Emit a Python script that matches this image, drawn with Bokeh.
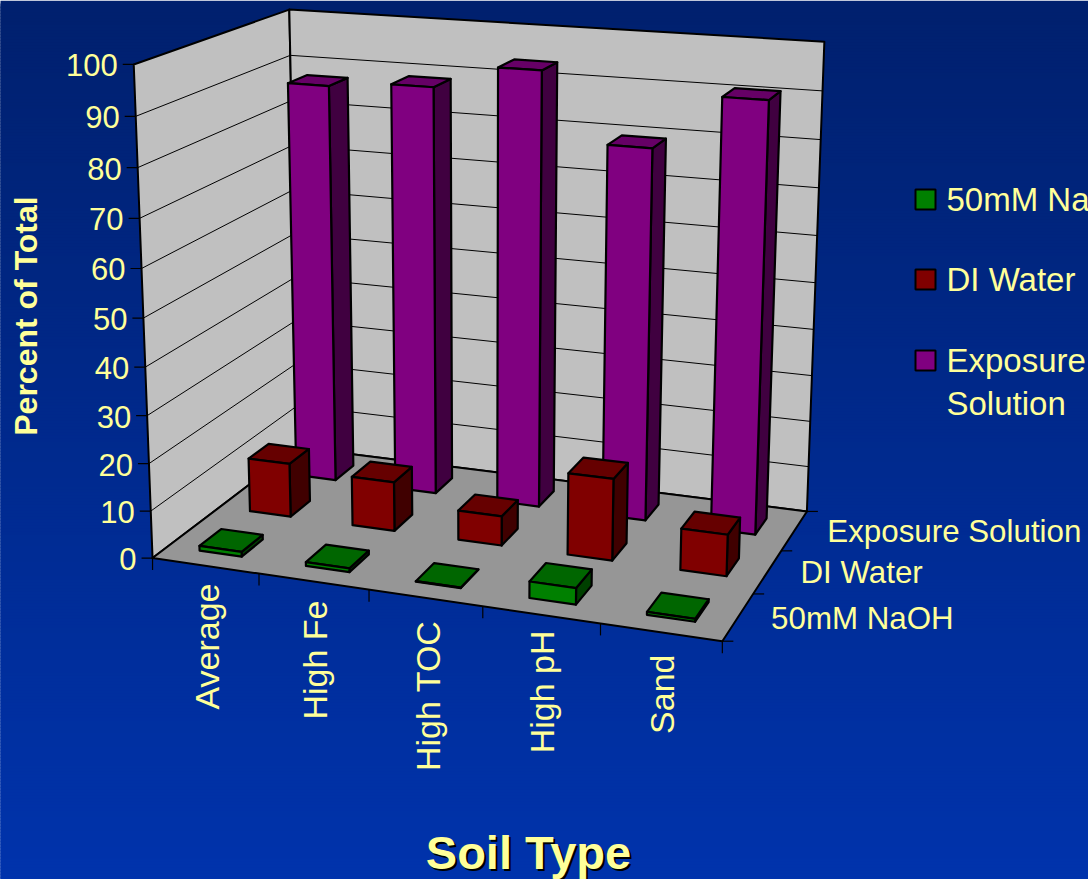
import numpy as np
from bokeh.core.properties import value
from bokeh.embed import file_html
from bokeh.models import Range1d
from bokeh.plotting import figure
from bokeh.resources import INLINE

# Chart data
categories = ["Average", "High Fe", "High TOC", "High pH", "Sand"]
series_names = ["50mM NaOH", "DI Water", "Exposure Solution"]
naoh_50mm = [1.0, 0.8, 0.1, 3.4, 0.6]
di_water = [11.7, 10.6, 6.3, 17.3, 8.7]
exposure_solution = [87.3, 88.6, 93.6, 79.3, 90.7]
value_ticks = [0, 10, 20, 30, 40, 50, 60, 70, 80, 90, 100]

# Series palette: front, top and side faces of each column
FRONT = ["#008000", "#800000", "#800080"]
TOP = ["#006600", "#660000", "#660066"]
SIDE = ["#004000", "#400000", "#400040"]
INK = "#FFFF99"
FONT = value("Liberation Sans")

W, H = 1088, 879
N_CAT, N_SER = len(categories), len(series_names)

# Camera calibration: chart-box coordinates (category, series, percent) -> page pixels
box_corners = [
    (0, 0, 0, 151, 557), (0, 0, 100, 134, 64), (0, 3, 100, 288, 9),
    (5, 3, 100, 824, 41), (5, 3, 0, 806, 511), (5, 0, 0, 722, 640),
]
axis_refs = [
    (0, 3, 0, 302, 447),
    (1, 0, 0, 258, 574), (2, 0, 0, 368, 589), (3, 0, 0, 483, 607), (4, 0, 0, 601, 624),
    (5, 1, 0, 752, 594), (5, 2, 0, 781, 551),
    (0, 0, 50, 143, 318), (0, 0, 20, 149, 463), (0, 0, 80, 137, 168),
]


def fit_camera(refs):
    rows = []
    for c, s, v, px, py in refs:
        X = [c / 5, s / 3, v / 100, 1.0]
        u, t = px / 1000, py / 1000
        rows.append(X + [0, 0, 0, 0] + [-u * a for a in X])
        rows.append([0, 0, 0, 0] + X + [-t * a for a in X])
    _, _, vt = np.linalg.svd(np.array(rows))
    return vt[-1].reshape(3, 4)


CAM = fit_camera(box_corners * 4 + axis_refs)


def project(c, s, v):
    r = CAM @ np.array([c / 5, s / 3, v / 100, 1.0])
    return float(r[0] / r[2] * 1000), float(r[1] / r[2] * 1000)


p = figure(width=W, height=H, x_range=Range1d(0, W), y_range=Range1d(H, 0),
           x_axis_type=None, y_axis_type=None, toolbar_location=None,
           output_backend="svg", min_border=0, outline_line_color=None)
p.grid.visible = False

# Slide background: vertical blue gradient, each band overlapping the next
top_rgb, bottom_rgb = np.array([0, 32, 110]), np.array([0, 51, 172])
bands = np.arange(0, H, 3)
band_colors = ["#%02x%02x%02x" % tuple(int(a) for a in (top_rgb + (bottom_rgb - top_rgb) * b / H).round())
               for b in bands]
p.quad(left=-5, right=W + 5, top=bands, bottom=bands + 8, fill_color=band_colors, line_color=None)


def face(points):
    pts = [project(*q) for q in points]
    return [a for a, _ in pts], [b for _, b in pts]


def add_faces(faces, colors, width):
    xs, ys = zip(*faces)
    p.patches(list(xs), list(ys), fill_color=colors, line_color="black", line_width=width,
              line_join="round")


# Walls and floor
add_faces(
    [face([(0, 0, 0), (0, 3, 0), (0, 3, 100), (0, 0, 100)]),
     face([(0, 3, 0), (5, 3, 0), (5, 3, 100), (0, 3, 100)]),
     face([(0, 0, 0), (5, 0, 0), (5, 3, 0), (0, 3, 0)])],
    ["#C0C0C0", "#C0C0C0", "#969696"], 2)

# Gridlines across the two walls
grid = [face([(0, 0, v), (0, 3, v), (5, 3, v)]) for v in value_ticks[1:-1]]
p.multi_line([g[0] for g in grid], [g[1] for g in grid], line_color="black", line_width=1)

# Tick marks on the three axes
tick_x, tick_y = [], []
for v in value_ticks:
    x, y = project(0, 0, v)
    tick_x.append([x - 11, x])
    tick_y.append([y, y])
for c in range(N_CAT + 1):
    x, y = project(c, 0, 0)
    tick_x.append([x, x])
    tick_y.append([y, y + 12])
for s in range(N_SER + 1):
    x, y = project(N_CAT, s, 0)
    tick_x.append([x, x + 11])
    tick_y.append([y, y])
p.multi_line(tick_x, tick_y, line_color="black", line_width=1.2)

# Columns, back row first so nearer ones paint over
BAR_W, BAR_D = 0.4, 0.42
rows = [naoh_50mm, di_water, exposure_solution]
for s in reversed(range(N_SER)):
    faces, colors = [], []
    for c in range(N_CAT):
        v = rows[s][c]
        x0, x1 = c + (1 - BAR_W) / 2, c + (1 + BAR_W) / 2
        z0, z1 = s + (1 - BAR_D) / 2, s + (1 + BAR_D) / 2
        faces += [
            face([(x1, z0, 0), (x1, z1, 0), (x1, z1, v), (x1, z0, v)]),
            face([(x0, z0, v), (x1, z0, v), (x1, z1, v), (x0, z1, v)]),
            face([(x0, z0, 0), (x1, z0, 0), (x1, z0, v), (x0, z0, v)]),
        ]
        colors += [SIDE[s], TOP[s], FRONT[s]]
    add_faces(faces, colors, 2.2)


def label(x, y, text, size=31, style="normal", align="left", angle=0.0, color=INK):
    p.text([x], [y], text=[text], text_font=FONT, text_font_size=value(f"{size}px"),
           text_font_style=style, text_align=align, text_baseline="middle", angle=angle,
           text_color=color)


# Percent axis labels
for v in value_ticks:
    x, y = project(0, 0, v)
    label(x - 16, y + 1, str(v), align="right")

# Category labels run upward and end just under the floor edge
cat_label_x = [206, 314, 427, 541, 661]
cat_label_top = [583, 600, 620, 630, 654]
for name, x, y in zip(categories, cat_label_x, cat_label_top):
    label(x, y, name, size=34, align="right", angle=np.pi / 2)

# Series labels beside the right floor edge
for s, name in enumerate(series_names):
    x, y = project(N_CAT, s + 0.5, 0)
    label(x + 33, y + 1, name, size=31.3)

# Axis titles
label(25, 315.5, "Percent of Total", size=32, style="bold", align="center", angle=np.pi / 2)
label(530, 854, "Soil Type", size=47, style="bold", align="center", color="#000000")
label(528, 852, "Soil Type", size=47, style="bold", align="center")

# Legend
legend_y = [199, 279, 360]
legend_labels = [["50mM NaOH"], ["DI Water"], ["Exposure", "Solution"]]
p.rect([925] * 3, legend_y, width=20, height=20, fill_color=FRONT, line_color="black", line_width=2)
for y, lines in zip(legend_y, legend_labels):
    for k, line in enumerate(lines):
        label(946, y + k * 43, line, size=33)

open("out.html", "w").write(file_html(p, INLINE))
